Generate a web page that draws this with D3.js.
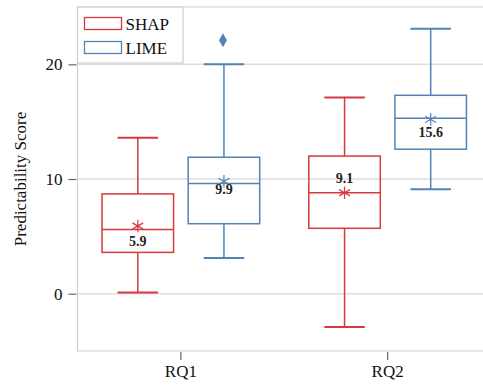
<!DOCTYPE html>
<html>
<head>
<meta charset="utf-8">
<script src="https://cdn.jsdelivr.net/npm/d3@7"></script>
<style>
  body { margin: 0; background: #fff; }
  svg text { font-family: "Liberation Serif", "Times New Roman", serif; }
</style>
</head>
<body>
<div id="chart"></div>
<script>
// data
const questions = ['RQ1', 'RQ2'];
const methods = ['SHAP', 'LIME'];
const whiskerLow = [[0.1, 3.1], [-2.9, 9.1]];
const q1 = [[3.6, 6.1], [5.7, 12.6]];
const median = [[5.6, 9.6], [8.8, 15.3]];
const q3 = [[8.7, 11.9], [12.0, 17.3]];
const whiskerHigh = [[13.6, 20.0], [17.1, 23.1]];
const means = [[5.9, 9.9], [9.1, 15.6]];
const meanMarks = [[5.9, 9.8], [8.8, 15.2]];
const outliers = [[[], [22.1]], [[], []]];
const yTicks = [0, 10, 20];

const colors = { SHAP: '#d6393f', LIME: '#5283b3' };
// mean label baseline offset from the mean marker, px
const labelDy = [[20, 13], [-10, 18]];

const width = 483;
const height = 388;
const margin = { top: 7, right: -8, bottom: 37, left: 77.5 };

const svg = d3.select('#chart').append('svg')
  .attr('width', width)
  .attr('height', height);

const x0 = d3.scaleBand()
  .domain(questions)
  .range([margin.left, width - margin.right])
  .padding(0);

const x1 = d3.scaleBand()
  .domain(methods)
  .range([0, x0.bandwidth()])
  .paddingInner(0)
  .paddingOuter(0.2);

const y = d3.scaleLinear()
  .domain([-5, 25])
  .range([height - margin.bottom, margin.top]);

const boxW = x1.bandwidth() * 0.83;
const capW = x1.bandwidth() * 0.47;

// grid lines
svg.append('g')
  .selectAll('line')
  .data(yTicks)
  .enter().append('line')
  .attr('x1', margin.left)
  .attr('x2', width)
  .attr('y1', d => y(d))
  .attr('y2', d => y(d))
  .attr('stroke', '#dedede')
  .attr('stroke-width', 1.5);

// frame
svg.append('path')
  .attr('d', 'M' + width + ',' + y(25) + 'H' + margin.left + 'V' + y(-5) + 'H' + width)
  .attr('stroke', '#cfcfcf')
  .attr('stroke-width', 1.2)
  .attr('fill', 'none');

// axes
const yAxis = svg.append('g')
  .attr('transform', 'translate(' + (margin.left - 1) + ',0)')
  .call(d3.axisLeft(y).tickValues(yTicks).tickSize(8).tickPadding(6));
yAxis.select('.domain').remove();
yAxis.selectAll('.tick line').attr('stroke', '#666').attr('stroke-width', 1.2);
yAxis.selectAll('text').attr('font-size', 17).attr('fill', '#111');

const xAxis = svg.append('g')
  .attr('transform', 'translate(0,' + (y(-5) + 1) + ')')
  .call(d3.axisBottom(x0).tickSize(8).tickPadding(5));
xAxis.select('.domain').remove();
xAxis.selectAll('.tick line').attr('stroke', '#666').attr('stroke-width', 1.2);
xAxis.selectAll('text').attr('font-size', 17).attr('fill', '#111');

svg.append('text')
  .attr('transform', 'translate(26,' + ((y(25) + y(-5)) / 2) + ') rotate(-90)')
  .attr('text-anchor', 'middle')
  .attr('font-size', 17)
  .attr('fill', '#111')
  .text('Predictability Score');

// boxes
questions.forEach((q, qi) => {
  methods.forEach((m, mi) => {
    const cx = x0(q) + x1(m) + x1.bandwidth() / 2;
    const col = colors[m];
    const g = svg.append('g').attr('stroke', col).attr('stroke-width', 1.5).attr('fill', 'none');

    g.append('line')
      .attr('x1', cx).attr('x2', cx)
      .attr('y1', y(whiskerHigh[qi][mi])).attr('y2', y(q3[qi][mi]));
    g.append('line')
      .attr('x1', cx).attr('x2', cx)
      .attr('y1', y(q1[qi][mi])).attr('y2', y(whiskerLow[qi][mi]));
    [whiskerHigh[qi][mi], whiskerLow[qi][mi]].forEach(v => {
      g.append('line')
        .attr('x1', cx - capW / 2).attr('x2', cx + capW / 2)
        .attr('y1', y(v)).attr('y2', y(v))
        .attr('stroke-width', 2);
    });
    g.append('rect')
      .attr('x', cx - boxW / 2)
      .attr('width', boxW)
      .attr('y', y(q3[qi][mi]))
      .attr('height', y(q1[qi][mi]) - y(q3[qi][mi]));
    g.append('line')
      .attr('x1', cx - boxW / 2).attr('x2', cx + boxW / 2)
      .attr('y1', y(median[qi][mi])).attr('y2', y(median[qi][mi]));

    g.append('path')
      .attr('d', d3.symbol(d3.symbolAsterisk, 110)())
      .attr('transform', 'translate(' + cx + ',' + y(meanMarks[qi][mi]) + ')')
      .attr('stroke-width', 1.2);

    outliers[qi][mi].forEach(v => {
      svg.append('path')
        .attr('d', d3.symbol(d3.symbolDiamond, 55)())
        .attr('transform', 'translate(' + (cx - 1) + ',' + y(v) + ')')
        .attr('fill', col);
    });

    svg.append('text')
      .attr('x', cx)
      .attr('y', y(meanMarks[qi][mi]) + labelDy[qi][mi])
      .attr('text-anchor', 'middle')
      .attr('font-size', 14)
      .attr('font-weight', 'bold')
      .attr('fill', '#222')
      .text(means[qi][mi].toFixed(1));
  });
});

// legend
const legend = svg.append('g');
legend.append('rect')
  .attr('x', margin.left)
  .attr('y', y(25))
  .attr('width', 105.5)
  .attr('height', 56)
  .attr('fill', '#fff')
  .attr('stroke', '#cfcfcf')
  .attr('stroke-width', 1.2);
methods.forEach((m, i) => {
  legend.append('rect')
    .attr('x', 84.5)
    .attr('y', 17.5 + i * 24)
    .attr('width', 37)
    .attr('height', 12)
    .attr('fill', 'none')
    .attr('stroke', colors[m])
    .attr('stroke-width', 1.3);
  legend.append('text')
    .attr('x', 125.5)
    .attr('y', 29.5 + i * 24)
    .attr('font-size', 17)
    .attr('fill', '#111')
    .text(m);
});
</script>
</body>
</html>
